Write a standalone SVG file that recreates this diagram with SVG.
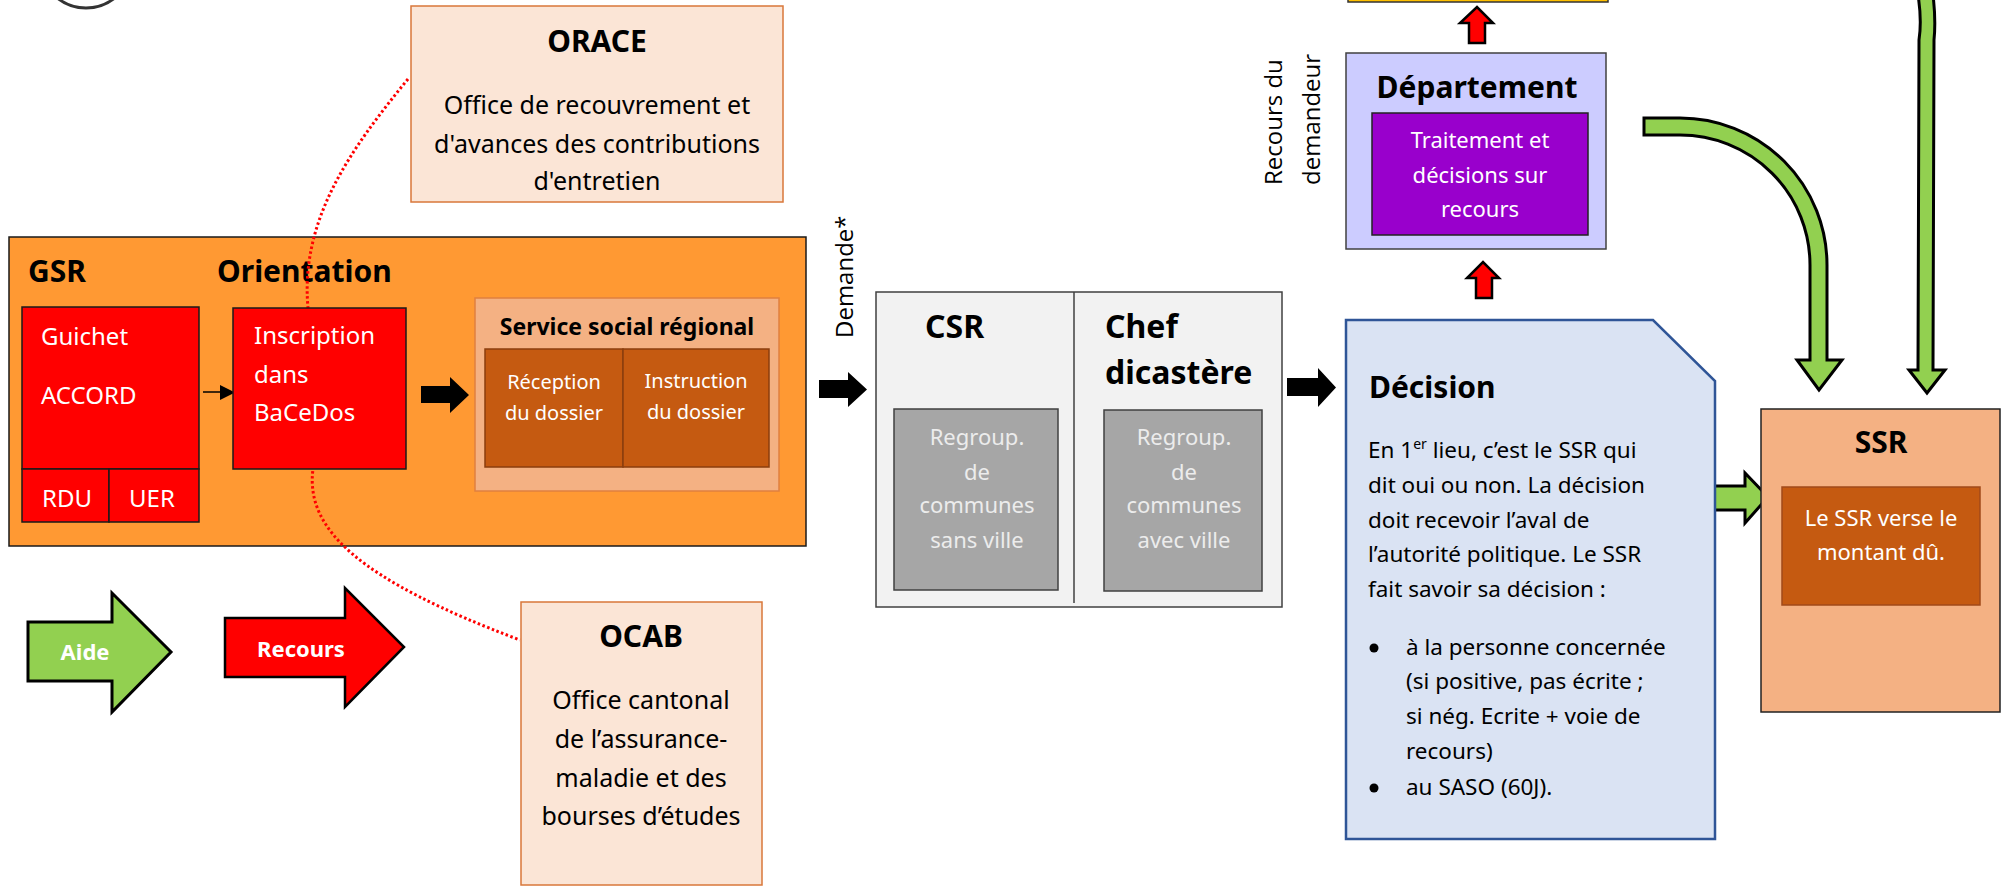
<svg xmlns="http://www.w3.org/2000/svg" width="2009" height="886" viewBox="0 0 2009 886">
<style>
text{font-family:"Noto Sans","Open Sans","DejaVu Sans",sans-serif;fill:#000}
.t{font-weight:bold;font-size:30px}
.t2{font-weight:bold;font-size:32px}
.b{font-size:24px}
.o{font-size:25px}
.s{font-size:22px}
.d{font-size:22.5px}
.m{font-size:20px}
.w{fill:#fff}
.lg{fill:#ececec}
.c{text-anchor:middle}
.rot{font-family:"Open Sans","Noto Sans",sans-serif;font-size:24px}
.peach{fill:#fbe5d6;stroke:#d9773a;stroke-width:1.5}
.brown{fill:#c55a11;stroke:#8a3e0e;stroke-width:1.5}
.red{fill:#ff0000;stroke:#1a1a1a;stroke-width:1.5}
.grey{fill:#a6a6a6;stroke:#404040;stroke-width:1.5}
.green{fill:#92d050;stroke:#000;stroke-width:3;stroke-linejoin:miter}
.redar{fill:#ff0000;stroke:#000;stroke-width:2.5}
.blk{fill:#000}
</style>

<g id="circle-fragment">
<circle cx="86" cy="-38" r="46" fill="none" stroke="#333" stroke-width="3"/>
</g>

<g id="top-box">
<rect x="1348" y="-40" width="260" height="42" fill="#ffc000" stroke="#333" stroke-width="1.5"/>
</g>

<g id="gsr">
<rect x="9" y="237" width="797" height="309" fill="#ff9933" stroke="#1a1a1a" stroke-width="1.5"/>
<text class="t" x="28" y="282">GSR</text>
<text class="t" x="217" y="282">Orientation</text>
</g>

<g id="connectors">
<path d="M408,79 C350,150 300,220 308,308 L313,469 C305,530 360,580 520,640" fill="none" stroke="#ff0000" stroke-width="3" stroke-dasharray="2.5 2.5"/>
<line x1="203" y1="392" x2="222" y2="392" stroke="#000" stroke-width="1.5"/>
<polygon class="blk" points="220,385 235,392.5 220,400"/>
<polygon class="blk" points="421,386 450,386 450,377 469,395 450,413 450,403 421,403"/>
<polygon class="blk" points="819,380 848,380 848,372 867,389.5 848,407 848,398 819,398"/>
<polygon class="blk" points="1287,378 1318,378 1318,368 1336,387.5 1318,407 1318,396 1287,396"/>
<polygon class="redar" points="1469,43 1469,23 1460,23 1477,7 1493,23 1485,23 1485,43"/>
<polygon class="redar" points="1476,298 1476,278 1467,278 1483,262 1499,278 1492,278 1492,298"/>
<path class="green" d="M1644,118 L1680,118 A147,147 0 0 1 1827,265 L1827,360 L1842,360 L1819,390 L1797,360 L1810,360 L1810,265 A130,130 0 0 0 1680,135 L1644,135 Z"/>
<path class="green" d="M1918,-5 Q1922,20 1919,40 L1918,370 L1909,370 L1927,393 L1945,370 L1933,370 L1934,40 Q1936,20 1933,-5 Z"/>
<polygon class="green" points="1712,486 1745,486 1745,473 1768,497 1745,523 1745,510 1712,510"/>
</g>

<g id="guichet">
<rect class="red" x="22" y="307" width="177" height="162"/>
<text class="b w" x="41" y="345">Guichet</text>
<text class="b w" x="41" y="404">ACCORD</text>
</g>
<g id="rdu">
<rect class="red" x="22" y="469" width="87" height="53"/>
<text class="b w" x="42" y="507">RDU</text>
</g>
<g id="uer">
<rect class="red" x="109" y="469" width="90" height="53"/>
<text class="b w" x="129" y="507">UER</text>
</g>

<g id="inscription">
<rect class="red" x="233" y="308" width="173" height="161"/>
<text class="b w" x="254" y="344">Inscription</text>
<text class="b w" x="254" y="383">dans</text>
<text class="b w" x="254" y="421">BaCeDos</text>
</g>

<g id="service-social-regional">
<rect x="475" y="298" width="304" height="193" fill="#f4b183" stroke="#e08040" stroke-width="1.5"/>
<text class="c" x="627" y="335" font-weight="bold" font-size="23">Service social régional</text>
</g>
<g id="reception">
<rect class="brown" x="485" y="349" width="138" height="118"/>
<text class="m w c" x="554" y="389">Réception</text>
<text class="m w c" x="554" y="420">du dossier</text>
</g>
<g id="instruction">
<rect class="brown" x="623" y="349" width="146" height="118"/>
<text class="m w c" x="696" y="388">Instruction</text>
<text class="m w c" x="696" y="419">du dossier</text>
</g>

<g id="orace">
<rect class="peach" x="411" y="6" width="372" height="196"/>
<text class="t c" x="597" y="52">ORACE</text>
<text class="o c" x="597" y="114">Office de recouvrement et</text>
<text class="o c" x="597" y="153">d'avances des contributions</text>
<text class="o c" x="597" y="190">d'entretien</text>
</g>

<g id="ocab">
<rect class="peach" x="521" y="602" width="241" height="283"/>
<text class="t c" x="641" y="647">OCAB</text>
<text class="o c" x="641" y="709">Office cantonal</text>
<text class="o c" x="641" y="748">de l’assurance-</text>
<text class="o c" x="641" y="787">maladie et des</text>
<text class="o c" x="641" y="825">bourses d’études</text>
</g>

<g id="aide">
<polygon class="green" points="28,622 112,622 112,593 171,652 112,712 112,681 28,681"/>
<text class="w c" x="85" y="660" font-weight="bold" font-size="22">Aide</text>
</g>
<g id="recours">
<polygon class="redar" stroke-width="3" points="225,618 345,618 345,588 404,647 345,707 345,677 225,677"/>
<text class="w c" x="301" y="657" font-weight="bold" font-size="22">Recours</text>
</g>

<g id="label-demande">
<text class="rot" transform="translate(853,338) rotate(-90)">Demande*</text>
</g>
<g id="label-recours-demandeur">
<text class="rot" transform="translate(1282,185) rotate(-90)">Recours du</text>
<text class="rot" transform="translate(1320,185) rotate(-90)">demandeur</text>
</g>

<g id="csr">
<rect x="876" y="292" width="406" height="315" fill="#f2f2f2" stroke="#404040" stroke-width="1.5"/>
<line x1="1074" y1="292" x2="1074" y2="603" stroke="#404040" stroke-width="1.5"/>
<text class="t2" x="925" y="338">CSR</text>
<text class="t2" x="1105" y="338">Chef</text>
<text class="t2" x="1105" y="384">dicastère</text>
</g>
<g id="regroup-sans-ville">
<rect class="grey" x="894" y="409" width="164" height="181"/>
<text class="s lg c" x="977" y="445">Regroup.</text>
<text class="s lg c" x="977" y="480">de</text>
<text class="s lg c" x="977" y="513">communes</text>
<text class="s lg c" x="977" y="548">sans ville</text>
</g>
<g id="regroup-avec-ville">
<rect class="grey" x="1104" y="410" width="158" height="181"/>
<text class="s lg c" x="1184" y="445">Regroup.</text>
<text class="s lg c" x="1184" y="480">de</text>
<text class="s lg c" x="1184" y="513">communes</text>
<text class="s lg c" x="1184" y="548">avec ville</text>
</g>

<g id="departement">
<rect x="1346" y="53" width="260" height="196" fill="#ccccff" stroke="#404040" stroke-width="1.5"/>
<text class="t c" x="1477" y="98">Département</text>
<rect x="1372" y="113" width="216" height="122" fill="#9900cc" stroke="#222" stroke-width="1.5"/>
<text class="s w c" x="1480" y="148">Traitement et</text>
<text class="s w c" x="1480" y="183">décisions sur</text>
<text class="s w c" x="1480" y="217">recours</text>
</g>

<g id="decision">
<polygon points="1346,320 1653,320 1715,381 1715,839 1346,839" fill="#dae3f3" stroke="#2f5597" stroke-width="2.5"/>
<text class="t" x="1369" y="398">Décision</text>
<text class="d" x="1368" y="458">En 1<tspan font-size="14" dy="-9">er</tspan><tspan dy="9"> lieu, c’est le SSR qui</tspan></text>
<text class="d" x="1368" y="493">dit oui ou non. La décision</text>
<text class="d" x="1368" y="528">doit recevoir l’aval de</text>
<text class="d" x="1368" y="562">l’autorité politique. Le SSR</text>
<text class="d" x="1368" y="597">fait savoir sa décision :</text>
<circle cx="1374" cy="648" r="4.5" fill="#000"/>
<text class="d" x="1406" y="655">à la personne concernée</text>
<text class="d" x="1406" y="689">(si positive, pas écrite ;</text>
<text class="d" x="1406" y="724">si nég. Ecrite + voie de</text>
<text class="d" x="1406" y="759">recours)</text>
<circle cx="1374" cy="788" r="4.5" fill="#000"/>
<text class="d" x="1406" y="795">au SASO (60J).</text>
</g>

<g id="ssr">
<rect x="1761" y="409" width="239" height="303" fill="#f4b183" stroke="#222" stroke-width="1.5"/>
<text class="t c" x="1881" y="453">SSR</text>
<rect x="1782" y="487" width="198" height="118" fill="#c55a11" stroke="#a04a1a" stroke-width="1.5"/>
<text class="s w c" x="1881" y="526">Le SSR verse le</text>
<text class="s w c" x="1881" y="560">montant dû.</text>
</g>
</svg>
